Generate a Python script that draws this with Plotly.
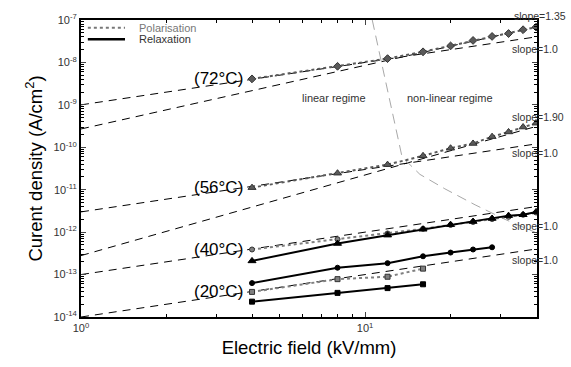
import numpy as np
import plotly.graph_objects as go

# Electric field values (kV/mm)
E_full = [4, 8, 12, 16, 20, 24, 28, 32, 36, 40]
E_40r = [4, 8, 12, 16, 20, 24, 28]
E_20 = [4, 8, 12, 16]

# Current densities (A/cm^2)
pol_72 = [4.1e-9, 8.1e-9, 1.23e-8, 1.78e-8, 2.45e-8, 3.3e-8, 4.1e-8, 4.8e-8, 5.9e-8, 6.8e-8]
pol_56 = [1.12e-11, 2.45e-11, 3.9e-11, 6.3e-11, 9.5e-11, 1.23e-10, 1.78e-10, 2.3e-10, 3.0e-10, 3.7e-10]
pol_40 = [3.9e-13, 6.8e-13, 9.3e-13, 1.2e-12, 1.48e-12, 1.74e-12, 2.04e-12, 2.3e-12, 2.57e-12, 2.9e-12]
rel_tri = [2.1e-13, 5.4e-13, 8.5e-13, 1.17e-12, 1.5e-12, 1.78e-12, 2.1e-12, 2.45e-12, 2.57e-12, 3.0e-12]
rel_40 = [6.3e-14, 1.45e-13, 1.86e-13, 2.7e-13, 3.3e-13, 3.9e-13, 4.4e-13]
pol_20 = [3.9e-14, 7.8e-14, 8.9e-14, 1.38e-13]
rel_20 = [2.3e-14, 3.7e-14, 4.8e-14, 5.9e-14]

# Power-law guide lines J = A * E^n, drawn from 1 to 40 kV/mm
fit_E = [1, 40]
fit_A = [1e-9, 2.7e-10, 3e-12, 2.8e-13, 1e-13, 1e-14]
fit_n = [1.0, 1.5, 1.0, 1.9, 1.0, 1.0]
slope_labels = ["slope=1.35", "slope=1.0", "slope=1.90", "slope=1.0", "slope=1.0", "slope=1.0"]
slope_label_y = [1.013, 0.903, 0.675, 0.552, 0.308, 0.192]

# Boundary between linear and non-linear regimes
bound_E = [10.6, 12.05, 13.5, 15.6, 19.1, 24.4, 31.1, 40.3]
bound_J = [1e-7, 2e-9, 5.9e-11, 2.3e-11, 1.05e-11, 4.4e-12, 2.0e-12, 9.5e-13]

temp_labels = ["(72°C)", "(56°C)", "(40°C)", "(20°C)"]
temp_anchor_J = [pol_72[0], pol_56[0], pol_40[0], pol_20[0]]

FONT = "Liberation Sans, Arial, sans-serif"
POL = "#5a5a5a"
POL_LIGHT = "#808080"

fig = go.Figure()

# guide lines
for A, n in zip(fit_A, fit_n):
    fig.add_trace(go.Scatter(
        x=fit_E, y=[A * e ** n for e in fit_E], mode="lines",
        line=dict(color="black", width=1, dash="8px,6px"),
        showlegend=False, hoverinfo="skip"))

fig.add_trace(go.Scatter(
    x=bound_E, y=bound_J, mode="lines",
    line=dict(color="#a8a8a8", width=1, dash="10px,6px"),
    showlegend=False, hoverinfo="skip"))

def pol(x, y, symbol, color, size):
    fig.add_trace(go.Scatter(
        x=x, y=y, mode="lines+markers",
        line=dict(color=color, width=2, dash="dot"),
        marker=dict(symbol=symbol, size=size, color=color,
                    line=dict(color="#333", width=1)),
        showlegend=False))

def rel(x, y, symbol, size):
    fig.add_trace(go.Scatter(
        x=x, y=y, mode="lines+markers",
        line=dict(color="black", width=2),
        marker=dict(symbol=symbol, size=size, color="black",
                    line=dict(color="black", width=1)),
        showlegend=False))

pol(E_full, pol_72, "diamond", POL, 6)
pol(E_full, pol_56, "triangle-up", POL, 7)
pol(E_full, pol_40, "circle", POL_LIGHT, 5)
rel(E_full, rel_tri, "triangle-up", 7)
rel(E_40r, rel_40, "circle", 5)
pol(E_20, pol_20, "square", POL_LIGHT, 5)
rel(E_20, rel_20, "square", 5)

annotations = []
for txt, J in zip(temp_labels, temp_anchor_J):
    annotations.append(dict(
        x=np.log10(E_full[0]), y=np.log10(J), xref="x", yref="y",
        text=txt, showarrow=False, xanchor="right", yanchor="middle",
        xshift=-7, font=dict(family=FONT, size=17, color="black")))

for txt, yp in zip(slope_labels, slope_label_y):
    annotations.append(dict(
        x=0.94 if txt != "slope=1.35" else 0.945, y=yp, xref="paper", yref="paper",
        text=txt, showarrow=False, xanchor="left", yanchor="middle",
        font=dict(family=FONT, size=10.5, color="#333")))

annotations += [
    dict(x=0.481, y=0.736, xref="paper", yref="paper", text="linear regime",
         showarrow=False, xanchor="left", yanchor="middle",
         font=dict(family=FONT, size=11, color="#333")),
    dict(x=0.71, y=0.736, xref="paper", yref="paper", text="non-linear regime",
         showarrow=False, xanchor="left", yanchor="middle",
         font=dict(family=FONT, size=11, color="#333")),
    dict(x=0.123, y=0.974, xref="paper", yref="paper", text="Polarisation",
         showarrow=False, xanchor="left", yanchor="middle",
         font=dict(family=FONT, size=11, color="#777")),
    dict(x=0.123, y=0.935, xref="paper", yref="paper", text="Relaxation",
         showarrow=False, xanchor="left", yanchor="middle",
         font=dict(family=FONT, size=11, color="#333")),
]

shapes = [
    dict(type="line", xref="paper", yref="paper", x0=0.015, x1=0.0965, y0=0.974, y1=0.974,
         line=dict(color="#777", width=2, dash="dot")),
    dict(type="line", xref="paper", yref="paper", x0=0.015, x1=0.0965, y0=0.935, y1=0.935,
         line=dict(color="black", width=2.5)),
]

minor_vals = [d * 10.0 ** k for k in range(-15, 3) for d in range(2, 10)]

fig.update_layout(
    width=571, height=367,
    margin=dict(l=81, r=34, t=15, b=44),
    paper_bgcolor="white", plot_bgcolor="white",
    font=dict(family=FONT, color="#333"),
    annotations=annotations, shapes=shapes,
    showlegend=False,
    xaxis=dict(
        type="log", range=[0, np.log10(40.3)],
        tickvals=[1, 10], ticktext=["10<sup>0</sup>", "10<sup>1</sup>"],
        ticks="inside", ticklen=5, showgrid=False, zeroline=False,
        showline=True, linecolor="black", linewidth=2, mirror="allticks",
        tickfont=dict(family=FONT, size=11, color="#333"),
        minor=dict(tickvals=minor_vals, ticks="inside", ticklen=3, tickcolor="black", showgrid=False),
        title=dict(text="Electric field (kV/mm)", standoff=8,
                   font=dict(family=FONT, size=18.5, color="black")),
    ),
    yaxis=dict(
        type="log", range=[-14, -7],
        tickvals=[10.0 ** k for k in range(-14, -6)],
        ticktext=["10<sup>%d</sup>" % k for k in range(-14, -6)],
        ticks="inside", ticklen=5, showgrid=False, zeroline=False,
        showline=True, linecolor="black", linewidth=2, mirror="allticks",
        tickfont=dict(family=FONT, size=11, color="#333"),
        minor=dict(tickvals=minor_vals, ticks="inside", ticklen=3, tickcolor="black", showgrid=False),
        title=dict(text="Curent density (A/cm<sup>2</sup>)", standoff=6,
                   font=dict(family=FONT, size=18.5, color="black")),
    ),
)

fig.write_html("out.html")
